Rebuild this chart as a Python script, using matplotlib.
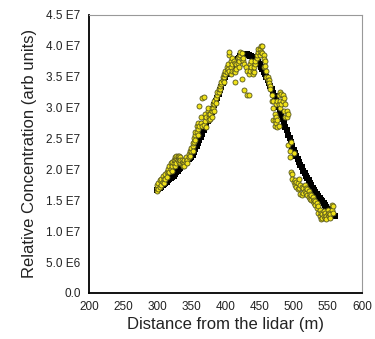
import numpy as np
import matplotlib
matplotlib.use("Agg")
import matplotlib.pyplot as plt

plt.rcParams['font.family'] = ['Liberation Sans', 'DejaVu Sans']

# fitted curve (black squares), distance in m, concentration in units of 1E7
fit_x = list(range(300, 561, 2))
fit_y = [1.66, 1.68, 1.70, 1.72, 1.74, 1.76, 1.78, 1.80, 1.82, 1.84,
         1.86, 1.88, 1.90, 1.92, 1.95, 1.97, 2.00, 2.02, 2.05, 2.08,
         2.08, 2.11, 2.14, 2.16, 2.18, 2.20, 2.24, 2.28, 2.33, 2.38,
         2.43, 2.48, 2.53, 2.58, 2.63, 2.68, 2.73, 2.78, 2.83, 2.88,
         2.93, 2.98, 3.04, 3.10, 3.16, 3.22, 3.28, 3.34, 3.40, 3.45,
         3.50, 3.54, 3.58, 3.62, 3.65, 3.68, 3.71, 3.74, 3.77, 3.79,
         3.81, 3.83, 3.85, 3.86, 3.87, 3.87, 3.86, 3.85, 3.84, 3.83,
         3.82, 3.80, 3.78, 3.76, 3.73, 3.70, 3.66, 3.62, 3.58, 3.54,
         3.50, 3.45, 3.40, 3.35, 3.30, 3.24, 3.19, 3.13, 3.07, 3.01,
         2.95, 2.88, 2.82, 2.76, 2.69, 2.63, 2.56, 2.50, 2.44, 2.38,
         2.32, 2.27, 2.22, 2.17, 2.12, 2.07, 2.03, 1.98, 1.94, 1.90,
         1.86, 1.82, 1.78, 1.74, 1.70, 1.67, 1.63, 1.60, 1.57, 1.54,
         1.51, 1.48, 1.45, 1.42, 1.39, 1.36, 1.33, 1.30, 1.28, 1.26,
         1.24]

# measured points (yellow)
meas_x = [300, 300, 300, 302, 302, 304, 304, 306, 306, 308, 308, 310, 310, 312, 312,
          314, 314, 316, 316, 318, 318, 320, 320, 322, 322, 322, 324, 324, 326, 326,
          326, 328, 328, 328, 330, 330, 330, 332, 332, 332, 334, 334, 334, 336, 336,
          338, 338, 340, 340, 340, 342, 342, 344, 344, 346, 346, 348, 348, 350, 350,
          352, 352, 352, 354, 354, 356, 356, 356, 358, 358, 360, 360, 360, 362, 362,
          364, 364, 366, 366, 368, 368, 370, 370, 372, 372, 374, 374, 376, 376, 376,
          378, 378, 380, 380, 380, 382, 382, 384, 384, 384, 386, 386, 388, 388, 390,
          390, 392, 392, 394, 394, 396, 396, 398, 398, 398, 400, 400, 402, 402, 404,
          404, 406, 406, 406, 408, 408, 408, 410, 410, 410, 412, 412, 414, 414, 414,
          416, 416, 418, 418, 420, 420, 420, 422, 422, 424, 424, 425, 426, 426, 428,
          428, 430, 431, 432, 434, 434, 436, 436, 438, 438, 440, 440, 442, 442, 444,
          444, 446, 446, 448, 448, 450, 450, 452, 452, 454, 454, 456, 456, 456, 458,
          458, 460, 460, 462, 462, 464, 464, 466, 466, 468, 468, 470, 470, 470, 472,
          472, 472, 474, 474, 474, 476, 476, 476, 478, 478, 478, 480, 480, 480, 482,
          482, 484, 484, 486, 486, 488, 488, 490, 490, 492, 492, 494, 494, 496, 496,
          498, 498, 500, 500, 502, 502, 504, 504, 506, 506, 508, 508, 510, 510, 512,
          512, 514, 514, 516, 516, 518, 518, 520, 520, 522, 522, 524, 524, 526, 526,
          528, 528, 530, 530, 532, 532, 534, 534, 536, 536, 538, 538, 540, 540, 542,
          542, 544, 544, 546, 546, 548, 548, 550, 550, 552, 552, 554, 554, 556, 556,
          558, 558]
meas_y = [1.65, 1.70, 1.75, 1.68, 1.78, 1.72, 1.82, 1.75, 1.85, 1.80, 1.90, 1.85, 1.78, 1.92, 1.85,
          1.95, 1.88, 1.98, 2.00, 1.95, 2.05, 2.00, 2.10, 2.05, 2.12, 1.98, 2.10, 2.15, 2.15, 2.20,
          2.05, 2.18, 2.22, 2.10, 2.20, 2.15, 2.22, 2.18, 2.22, 2.12, 2.20, 2.10, 2.15, 2.15, 2.08,
          2.12, 2.05, 2.10, 2.15, 2.05, 2.12, 2.20, 2.15, 2.10, 2.20, 2.25, 2.22, 2.30, 2.30, 2.35,
          2.38, 2.42, 2.30, 2.45, 2.50, 2.55, 2.60, 2.48, 2.60, 2.70, 2.65, 2.75, 2.55, 2.70, 3.02,
          2.75, 2.85, 2.70, 3.15, 2.72, 3.17, 2.78, 2.90, 2.85, 2.68, 2.95, 3.00, 2.85, 2.90, 2.80,
          2.90, 2.82, 2.95, 3.00, 2.85, 3.00, 3.05, 3.05, 3.10, 2.95, 3.15, 3.08, 3.20, 3.25, 3.25,
          3.30, 3.30, 3.35, 3.38, 3.42, 3.45, 3.50, 3.50, 3.55, 3.42, 3.55, 3.60, 3.65, 3.58, 3.70,
          3.62, 3.85, 3.90, 3.60, 3.75, 3.65, 3.55, 3.80, 3.70, 3.60, 3.75, 3.60, 3.72, 3.58, 3.42,
          3.70, 3.62, 3.72, 3.80, 3.75, 3.82, 3.65, 3.85, 3.90, 3.88, 3.78, 3.47, 3.75, 3.80, 3.70,
          3.29, 3.65, 3.20, 3.60, 3.55, 3.20, 3.60, 3.70, 3.65, 3.75, 3.60, 3.55, 3.58, 3.65, 3.70,
          3.75, 3.80, 3.85, 3.90, 3.95, 3.95, 3.85, 4.00, 3.90, 4.00, 3.88, 3.85, 3.78, 3.65, 3.75,
          3.68, 3.60, 3.50, 3.50, 3.45, 3.45, 3.40, 3.35, 3.30, 3.20, 3.10, 3.10, 3.00, 2.80, 2.90,
          2.80, 2.70, 2.85, 2.75, 3.05, 2.80, 3.10, 2.68, 3.05, 3.20, 2.70, 3.25, 3.10, 3.00, 3.22,
          3.05, 3.20, 3.10, 3.15, 2.95, 3.05, 2.85, 2.95, 2.85, 2.90, 2.40, 2.30, 2.20, 2.45, 1.95,
          1.92, 1.85, 2.26, 1.80, 1.82, 1.75, 1.80, 1.72, 1.78, 1.68, 1.85, 1.70, 1.75, 1.60, 1.72,
          1.58, 1.70, 1.62, 1.75, 1.65, 1.70, 1.62, 1.68, 1.58, 1.65, 1.55, 1.60, 1.52, 1.58, 1.50,
          1.55, 1.48, 1.50, 1.45, 1.48, 1.42, 1.45, 1.38, 1.40, 1.30, 1.35, 1.25, 1.30, 1.20, 1.28,
          1.22, 1.32, 1.25, 1.30, 1.22, 1.25, 1.20, 1.28, 1.35, 1.30, 1.25, 1.28, 1.22, 1.35, 1.42,
          1.40, 1.30]

y_ticks = [0, 0.5, 1.0, 1.5, 2.0, 2.5, 3.0, 3.5, 4.0, 4.5]
y_tick_labels = ['0.0', '5.0 E6', '1.0 E7', '1.5 E7', '2.0 E7', '2.5 E7',
                 '3.0 E7', '3.5 E7', '4.0 E7', '4.5 E7']
x_ticks = [200, 250, 300, 350, 400, 450, 500, 550, 600]


def main():
    fig = plt.figure(figsize=(3.75, 3.39), dpi=100)
    ax = fig.add_axes([0.237, 0.136, 0.728, 0.82])

    ax.scatter(fit_x, fit_y, marker='s', s=15, color='black', zorder=2, linewidths=0)
    ax.scatter(meas_x, meas_y, marker='o', s=13, facecolor='#f0e21a',
               edgecolor='#55551e', linewidths=0.6, zorder=3)

    ax.set_xlim(200, 600)
    ax.set_ylim(0, 4.5)
    ax.set_xticks(x_ticks)
    ax.set_yticks(y_ticks)
    ax.set_yticklabels(y_tick_labels)
    ax.tick_params(length=0, labelsize=8.5, colors='#222222')
    ax.tick_params(axis='y', pad=6)
    ax.tick_params(axis='x', pad=6)

    for s in ['left', 'bottom']:
        ax.spines[s].set_color('black')
        ax.spines[s].set_linewidth(1.3)
    for s in ['top', 'right']:
        ax.spines[s].set_color('#999999')
        ax.spines[s].set_linewidth(0.8)

    ax.set_xlabel('Distance from the lidar (m)', fontsize=12, color='#222222', labelpad=3)
    ax.set_ylabel('Relative Concentration (arb units)', fontsize=12, color='#222222', labelpad=7)

    fig.savefig('out.png', dpi=100)


if __name__ == '__main__':
    main()
